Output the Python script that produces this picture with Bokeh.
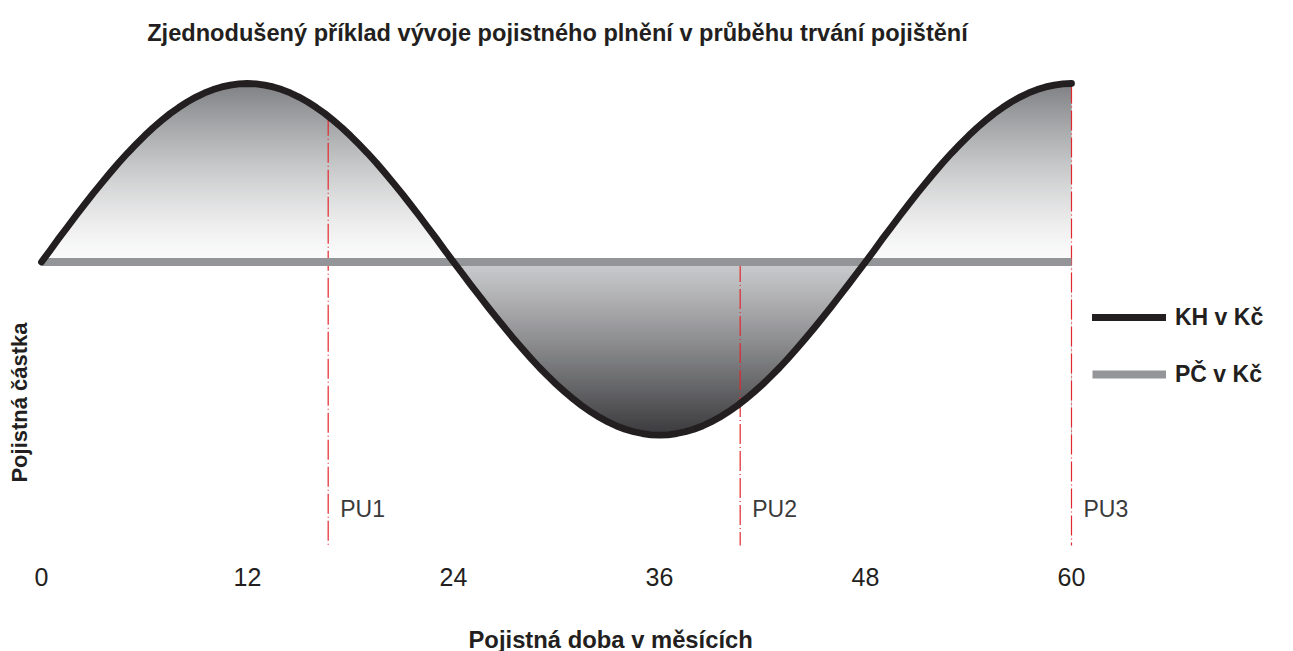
import numpy as np
from bokeh.plotting import figure
from bokeh.models import Range1d, FixedTicker, Legend, LegendItem, Title
from bokeh.core.properties import value
from bokeh.embed import file_html
from bokeh.resources import INLINE

# ---------------- data ----------------
title_text = "Zjednodušený příklad vývoje pojistného plnění v průběhu trvání pojištění"
x_label = "Pojistná doba v měsících"
y_label = "Pojistná částka"

months = [i * 0.5 for i in range(121)]
kh = [0.000, 0.065, 0.131, 0.195, 0.259, 0.321, 0.383, 0.442, 0.500, 0.556, 0.609, 0.659,
      0.707, 0.752, 0.793, 0.832, 0.866, 0.897, 0.924, 0.947, 0.966, 0.981, 0.991, 0.998,
      1.000,
      0.998, 0.991, 0.981, 0.966, 0.947, 0.924, 0.897, 0.866, 0.832, 0.793, 0.752, 0.707,
      0.659, 0.609, 0.556, 0.500, 0.442, 0.383, 0.321, 0.259, 0.195, 0.131, 0.065, 0.000,
      -0.063, -0.127, -0.189, -0.251, -0.311, -0.371, -0.429, -0.485, -0.539, -0.591, -0.639,
      -0.686, -0.729, -0.769, -0.807, -0.840, -0.870, -0.896, -0.919, -0.937, -0.951, -0.961,
      -0.968, -0.970,
      -0.968, -0.961, -0.951, -0.937, -0.919, -0.896, -0.870, -0.840, -0.807, -0.769, -0.729,
      -0.686, -0.639, -0.591, -0.539, -0.485, -0.429, -0.371, -0.311, -0.251, -0.189, -0.127,
      -0.063, 0.000,
      0.065, 0.131, 0.195, 0.259, 0.321, 0.383, 0.442, 0.500, 0.556, 0.609, 0.659,
      0.707, 0.752, 0.793, 0.832, 0.866, 0.897, 0.924, 0.947, 0.966, 0.981, 0.991, 0.998,
      1.000]
pc_months = [0, 60]
pc = [0.0, 0.0]
pu_labels = ["PU1", "PU2", "PU3"]
pu_months = [16.7, 40.7, 60.0]
pu_top = [0.82, 0.0, 1.0]
x_ticks = [0, 12, 24, 36, 48, 60]
legend_labels = ["KH v Kč", "PČ v Kč"]

# ---------------- layout ----------------
FONT = "Liberation Sans"
PX_X = 17.1667   # px per month
PX_Y = 178.5     # px per unit
FRAME_W, FRAME_H = 1290, 555
x_start = -41 / PX_X
y_top = 261.5 / PX_Y
y_bot = y_top - FRAME_H / PX_Y

def py(page_y):
    return (261.5 - page_y) / PX_Y

def px(page_x):
    return (page_x - 41) / PX_X

p = figure(frame_width=FRAME_W, frame_height=FRAME_H,
           output_backend="svg", toolbar_location=None,
           x_range=Range1d(x_start, x_start + FRAME_W / PX_X),
           y_range=Range1d(y_bot, y_top),
           y_axis_location=None,
           min_border_left=0, min_border_top=0, min_border_right=0,
           min_border_bottom=0)
p.outline_line_color = None
p.xgrid.visible = False
p.ygrid.visible = False
p.background_fill_color = "white"
p.border_fill_color = "white"

kh_arr = np.array(kh)
top_val = kh_arr.max()
bot_val = kh_arr.min()

def rgb(c):
    c = np.clip(np.round(c), 0, 255).astype(int)
    return "#%02x%02x%02x" % tuple(c)

N = 70
band_left = months[0] + 0.1
band_right = months[-1]
# upper lobes: white at zero line -> grey at top
lv = np.linspace(0, top_val, N + 1)
h_up = lv[1] - lv[0]
tm = (lv[:-1] + lv[1:]) / 2 / top_val
c0 = np.array([251, 251, 251]); c1 = np.array([126, 128, 131])
cols_up = [rgb(c0 + (c1 - c0) * t ** 1.4) for t in tm]
p.quad(left=band_left, right=band_right, bottom=lv[:-1], top=lv[1:] + 0.5 * h_up,
       fill_color=cols_up, line_color=None)

# lower lobe: light grey at zero line -> dark at bottom
lv2 = np.linspace(0, bot_val, N + 1)
h_dn = lv2[0] - lv2[1]
tm2 = (lv2[:-1] + lv2[1:]) / 2 / bot_val
d0 = np.array([202, 203, 205]); d1 = np.array([58, 58, 61])
cols_dn = [rgb(d0 + (d1 - d0) * t ** 1.1) for t in tm2]
p.quad(left=band_left, right=band_right, bottom=lv2[1:] - 0.5 * h_dn, top=lv2[:-1],
       fill_color=cols_dn, line_color=None)

# white masks outside the curve
p.varea(x=months, y1=np.maximum(kh_arr, 0), y2=top_val + 0.03, fill_color="white")
p.varea(x=months, y1=np.minimum(kh_arr, 0), y2=bot_val - 0.03, fill_color="white")

# red dash-dot markers
red_bottom = py(545)
p.segment(x0=pu_months, y0=pu_top, x1=pu_months, y1=[red_bottom] * len(pu_months),
          line_color="#e0282e", line_width=1.2, line_dash="20 3 1 3")

gray_r = p.line(pc_months, pc, line_color="#939598", line_width=8, line_cap="butt")
curve_r = p.line(months, kh, line_color="#231f20", line_width=6.8,
                 line_join="round", line_cap="round")

# PU labels
p.text(x=pu_months, y=[py(508)] * len(pu_months), text=pu_labels, x_offset=12,
       text_font=value(FONT), text_font_size="23px", text_color="#3a3a3a",
       text_align="left", text_baseline="middle")

# chart title
p.text(x=[px(557)], y=[py(32)], text=[title_text], text_font=value(FONT),
       text_font_size="23.6px", text_font_style="bold", text_color="#231f20",
       text_align="center", text_baseline="middle")

# y label
p.text(x=[px(18.5)], y=[py(402)], text=[y_label], angle=np.pi / 2,
       text_font=value(FONT), text_font_size="22px", text_font_style="bold",
       text_color="#231f20", text_align="center", text_baseline="middle")

# x axis (tick labels)
ax = p.xaxis[0]
ax.ticker = FixedTicker(ticks=x_ticks)
ax.axis_line_color = None
ax.major_tick_line_color = None
ax.minor_tick_line_color = None
ax.major_label_text_font = FONT
ax.major_label_text_font_size = "25px"
ax.major_label_text_color = "#231f20"
ax.major_label_standoff = 6

# spacer between the tick labels and the x axis title
spacer = Title(text=" ", text_font_size="2px", standoff=31)
p.add_layout(spacer, "below")
# x axis title
xt = Title(text=x_label, align="left", offset=468,
           text_font=FONT, text_font_size="23.8px", text_font_style="bold",
           text_color="#231f20", standoff=0)
p.add_layout(xt, "below")

legend = Legend(items=[LegendItem(label=legend_labels[0], renderers=[curve_r]),
                       LegendItem(label=legend_labels[1], renderers=[gray_r])],
                location=(1092, 166),
                label_text_font=FONT, label_text_font_size="23px",
                label_text_font_style="bold", label_text_color="#231f20",
                glyph_width=74, glyph_height=30, label_height=30, spacing=27,
                padding=0, margin=0, border_line_color=None,
                background_fill_alpha=0, label_standoff=9)
p.add_layout(legend)

open("out.html", "w").write(file_html(p, INLINE))
